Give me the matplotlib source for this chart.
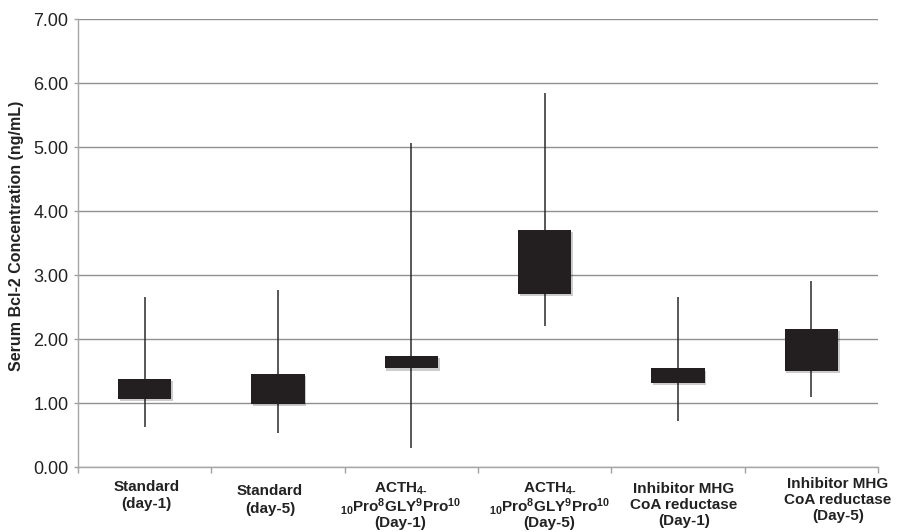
import matplotlib
matplotlib.use("Agg")
import matplotlib.pyplot as plt
import matplotlib.patheffects as pe
from matplotlib.ticker import FixedLocator

plt.rcParams["font.family"] = ["Liberation Sans", "DejaVu Sans"]
plt.rcParams["mathtext.fontset"] = "custom"
plt.rcParams["mathtext.rm"] = "Liberation Sans:bold"
plt.rcParams["mathtext.it"] = "Liberation Sans:bold"
plt.rcParams["mathtext.bf"] = "Liberation Sans:bold"
plt.rcParams["mathtext.default"] = "rm"

# data
categories = [
    "Standard\n(day-1)",
    "Standard\n(day-5)",
    r"ACTH$_{4\text{-}}$" "\n" r"$_{10}$Pro$^{8}$GLY$^{9}$Pro$^{10}$" "\n(Day-1)",
    r"ACTH$_{4\text{-}}$" "\n" r"$_{10}$Pro$^{8}$GLY$^{9}$Pro$^{10}$" "\n(Day-5)",
    "Inhibitor MHG\nCoA reductase\n(Day-1)",
    "Inhibitor MHG\nCoA reductase\n(Day-5)",
]
high = [2.65, 2.76, 5.06, 5.84, 2.65, 2.90]
box_top = [1.37, 1.46, 1.73, 3.70, 1.54, 2.15]
box_bottom = [1.07, 0.98, 1.54, 2.70, 1.32, 1.50]
low = [0.63, 0.53, 0.29, 2.21, 0.72, 1.10]
yticks = [0, 1, 2, 3, 4, 5, 6, 7]

# label layout (x shift in category units, top position in axes units, line spacing)
label_dx = [0.015, -0.06, -0.08, 0.036, 0.045, 0.2]
label_top = [-0.028, -0.039, -0.030, -0.030, -0.034, -0.023]
label_ls = [1.35, 1.35, 0.93, 0.93, 1.15, 1.15]

fig = plt.figure(figsize=(8.98, 5.32), dpi=100)
ax = fig.add_axes([78 / 898, 65 / 532, 800 / 898, 448 / 532])

x = list(range(len(categories)))
ax.vlines(x, low, high, color="#2a2a2a", linewidth=1.1, zorder=2)
bars = ax.bar(x, [t - b for t, b in zip(box_top, box_bottom)], bottom=box_bottom,
              width=0.4, color="#231f20", zorder=3)
for b in bars:
    b.set_path_effects([pe.SimplePatchShadow(offset=(1.2, -1.5), shadow_rgbFace="#000000", alpha=0.2),
                        pe.Normal()])

ax.set_xlim(-0.5, len(categories) - 0.5)
ax.set_ylim(0, 7)
ax.set_yticks(yticks)
ax.set_yticklabels([f"{v:.2f}" for v in yticks], fontsize=13, color="#222222")
ax.grid(axis="y", color="#8f8f8f", linewidth=1.0, zorder=0)
ax.set_axisbelow(True)

ax.set_xticks(x)
ax.set_xticklabels([])
ax.tick_params(axis="x", which="major", length=0)
ax.xaxis.set_minor_locator(FixedLocator([i - 0.5 for i in range(len(categories) + 1)]))
ax.tick_params(axis="x", which="minor", length=4, color="#a0a0a0", width=1)
ax.tick_params(axis="y", length=3, color="#a0a0a0", width=1, pad=4)

for s in ["top", "right"]:
    ax.spines[s].set_visible(False)
for s in ["left", "bottom"]:
    ax.spines[s].set_color("#a6a6a6")
    ax.spines[s].set_linewidth(1.0)

tr = ax.get_xaxis_transform()
for i, lab in enumerate(categories):
    ax.text(i + label_dx[i], label_top[i], lab, transform=tr, ha="center", va="top",
            fontsize=11, fontweight="bold", color="#222222", linespacing=label_ls[i],
            clip_on=False)

fig.text(17 / 898, 1 - 236 / 532, "Serum Bcl-2 Concentration (ng/mL)", rotation=90,
         ha="center", va="center", fontsize=11.5, fontweight="bold", color="#222222")

fig.savefig("out.png", dpi=100)
